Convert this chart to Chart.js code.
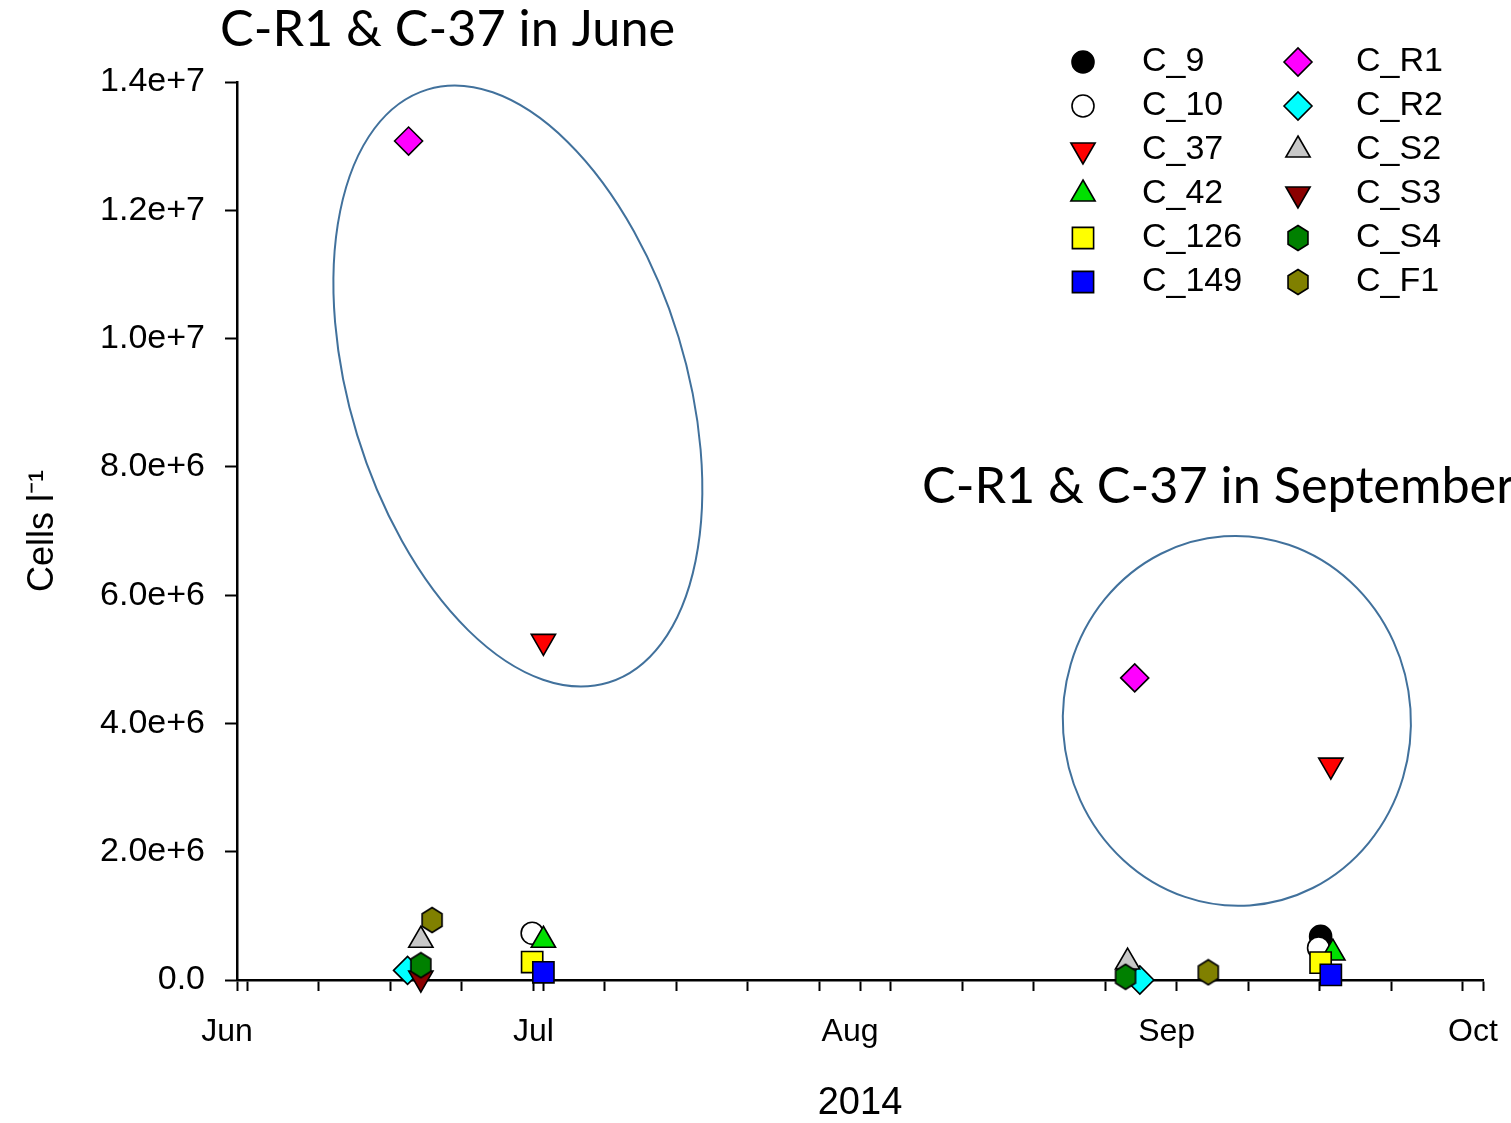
<!DOCTYPE html>
<html>
<head>
<meta charset="utf-8">
<script src="https://cdn.jsdelivr.net/npm/chart.js@4/dist/chart.umd.min.js"></script>
<style>
  html, body { margin: 0; padding: 0; background: #fff; }
  #myChart { display: block; }
</style>
</head>
<body>
<canvas id="myChart" width="1511" height="1123"></canvas>
<script>
// sampling day counted from 1 June 2014, cells per litre
const seriesNames = ['C_9', 'C_10', 'C_37', 'C_42', 'C_126', 'C_149', 'C_R1', 'C_R2', 'C_S2', 'C_S3', 'C_S4', 'C_F1'];
const sampleDays = [
    [106.1],
    [28.9, 105.9],
    [30.0, 107.1],
    [30.0, 107.3],
    [28.9, 106.1],
    [30.0, 107.1],
    [16.8, 87.9],
    [16.7, 88.4],
    [18.0, 87.2],
    [18.0],
    [18.0, 87.0],
    [19.1, 95.1]
];
const cellsPerLitre = [
    [6.8e5],
    [7.3e5, 5.0e5],
    [5.28e6, 3.35e6],
    [6.2e5, 4.2e5],
    [2.8e5, 2.7e5],
    [1.2e5, 0.8e5],
    [1.308e7, 4.71e6],
    [1.5e5, 0],
    [6.2e5, 2.8e5],
    [3e4],
    [2.3e5, 5e4],
    [9.35e5, 1.2e5]
];
const monthDays = [0, 30, 61, 92, 122];
const monthLabels = ['Jun', 'Jul', 'Aug', 'Sep', 'Oct'];
const weekDays = [1, 8, 15, 22, 29, 36, 43, 50, 57, 64, 71, 78, 85, 99, 106, 113, 120];
const yTickLabels = ['0.0', '2.0e+6', '4.0e+6', '6.0e+6', '8.0e+6', '1.0e+7', '1.2e+7', '1.4e+7'];
const noteJune = 'C-R1 & C-37 in June';
const noteSept = 'C-R1 & C-37 in September';

// marker styles
const fills = ['#000000', '#ffffff', '#ff0000', '#00e000', '#ffff00', '#0000ff', '#ff00ff', '#00ffff', '#c8c8c8', '#8b0000', '#008000', '#808000'];
const FONT = "'Liberation Sans', Arial, sans-serif";

function hexagon(color) {
    const c = document.createElement('canvas');
    c.width = 26; c.height = 28;
    const g = c.getContext('2d');
    g.beginPath();
    for (let k = 0; k < 6; k++) {
        const a = -Math.PI / 2 + k * Math.PI / 3;
        const px = 13 + 11.5 * Math.cos(a), py = 14 + 12.5 * Math.sin(a);
        k ? g.lineTo(px, py) : g.moveTo(px, py);
    }
    g.closePath();
    g.fillStyle = color;
    g.fill();
    g.lineWidth = 1.6;
    g.strokeStyle = '#000';
    g.stroke();
    return c;
}

const shapes = [
    {pointStyle: 'circle', radius: 11, rotation: 0},
    {pointStyle: 'circle', radius: 11, rotation: 0},
    {pointStyle: 'triangle', radius: 14, rotation: 180},
    {pointStyle: 'triangle', radius: 14, rotation: 0},
    {pointStyle: 'rect', radius: 15, rotation: 0},
    {pointStyle: 'rect', radius: 15, rotation: 0},
    {pointStyle: 'rectRot', radius: 14, rotation: 0},
    {pointStyle: 'rectRot', radius: 14, rotation: 0},
    {pointStyle: 'triangle', radius: 14, rotation: 0},
    {pointStyle: 'triangle', radius: 14, rotation: 180},
    {pointStyle: hexagon(fills[10]), radius: 13, rotation: 0},
    {pointStyle: hexagon(fills[11]), radius: 13, rotation: 0}
];

const datasets = seriesNames.map((name, i) => ({
    label: name,
    data: sampleDays[i].map((d, j) => ({x: d, y: cellsPerLitre[i][j]})),
    backgroundColor: fills[i],
    borderColor: '#000',
    borderWidth: 1.6,
    pointStyle: shapes[i].pointStyle,
    pointRadius: shapes[i].radius,
    rotation: shapes[i].rotation,
    showLine: false,
    clip: false,
    order: seriesNames.length - i
}));

// ellipses circling C_R1 and C_37 (centre in data units, radii in px)
const rings = [
    {day: 27.5, cells: 9.26e6, rx: 168, ry: 310, tilt: -17},
    {day: 97.9, cells: 4.04e6, rx: 174, ry: 185, tilt: -4}
];

const extras = {
    id: 'extras',
    afterDraw(chart) {
        const ctx = chart.ctx;
        const xs = chart.scales.x, ys = chart.scales.y;
        ctx.save();
        ctx.strokeStyle = '#41719c';
        ctx.lineWidth = 2;
        rings.forEach(r => {
            ctx.beginPath();
            ctx.ellipse(xs.getPixelForValue(r.day), ys.getPixelForValue(r.cells), r.rx, r.ry, r.tilt * Math.PI / 180, 0, Math.PI * 2);
            ctx.stroke();
        });

        // notes
        ctx.fillStyle = '#000';
        ctx.textBaseline = 'alphabetic';
        ctx.textAlign = 'left';
        ctx.font = '50px Lato';
        const size = 50 * 455 / ctx.measureText(noteJune).width;
        ctx.font = size.toFixed(1) + 'px Lato';
        ctx.fillText(noteJune, 220, 46);
        ctx.fillText(noteSept, 922, 503);

        // legend, two columns of six
        ctx.font = '34px ' + FONT;
        ctx.textBaseline = 'middle';
        seriesNames.forEach((name, i) => {
            const col = Math.floor(i / 6), row = i % 6;
            const mx = col ? 1298 : 1083, tx = col ? 1356 : 1142;
            const my = 62 + row * 44;
            ctx.fillStyle = fills[i];
            ctx.strokeStyle = '#000';
            ctx.lineWidth = 1.6;
            Chart.helpers.drawPoint(ctx, {
                pointStyle: shapes[i].pointStyle,
                radius: shapes[i].radius,
                rotation: shapes[i].rotation,
                borderWidth: 1.6
            }, mx, my);
            ctx.fillStyle = '#000';
            ctx.fillText(name, tx, my);
        });
        ctx.restore();
    }
};

const ctx = document.getElementById('myChart').getContext('2d');

new Chart(ctx, {
    type: 'scatter',
    data: { datasets: datasets },
    plugins: [extras],
    options: {
        responsive: false,
        animation: false,
        layout: { padding: { left: 0, top: 82, right: 28, bottom: 0 } },
        scales: {
            x: {
                type: 'linear',
                min: 0,
                max: 122,
                afterBuildTicks: axis => {
                    const all = monthDays.concat(weekDays).sort((a, b) => a - b);
                    axis.ticks = all.map(v => ({ value: v }));
                },
                afterFit: axis => {
                    axis.height = 143;
                    axis.paddingLeft = 0;
                    axis.paddingRight = 0;
                },
                ticks: {
                    autoSkip: false,
                    maxRotation: 0,
                    padding: 22,
                    labelOffset: -10,
                    color: '#000',
                    font: { family: FONT, size: 32 },
                    callback: v => {
                        const k = monthDays.indexOf(v);
                        return k >= 0 ? monthLabels[k] : '';
                    }
                },
                grid: {
                    drawOnChartArea: false,
                    drawTicks: true,
                    tickLength: 11,
                    tickWidth: 2,
                    tickColor: '#000'
                },
                border: { display: true, color: '#000', width: 2.5 },
                title: {
                    display: true,
                    text: '2014',
                    color: '#000',
                    font: { family: FONT, size: 38, lineHeight: 1.0 },
                    padding: { top: 0, bottom: 0 }
                }
            },
            y: {
                min: 0,
                max: 1.4e7,
                afterFit: axis => {
                    axis.width = 237;
                    axis.paddingTop = 0;
                    axis.paddingBottom = 0;
                },
                ticks: {
                    stepSize: 2e6,
                    padding: 20,
                    color: '#000',
                    font: { family: FONT, size: 34 },
                    callback: (v, i) => yTickLabels[i]
                },
                grid: {
                    drawOnChartArea: false,
                    drawTicks: true,
                    tickLength: 12,
                    tickWidth: 2,
                    tickColor: '#000'
                },
                border: { display: true, color: '#000', width: 2.5 },
                title: {
                    display: true,
                    text: 'Cells l\u207B\u00B9',
                    color: '#000',
                    font: { family: FONT, size: 36 },
                    padding: { top: 21, bottom: 0 }
                }
            }
        },
        plugins: {
            legend: { display: false },
            tooltip: { enabled: false }
        }
    }
});
</script>
</body>
</html>
